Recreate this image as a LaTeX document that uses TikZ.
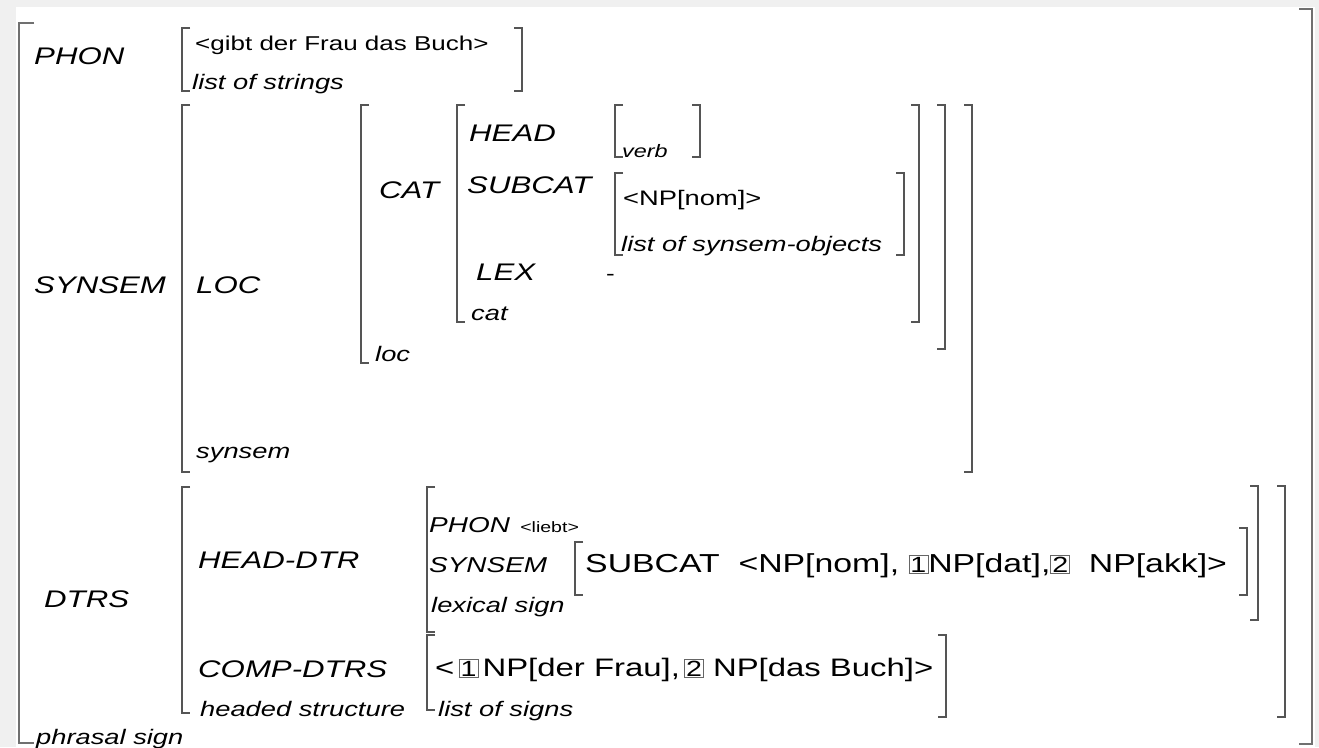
\documentclass[tikz,border=0pt]{standalone}
\usepackage{fontspec}
\usepackage{tikz}
\newfontfamily\avmfont{Liberation Sans}[FakeStretch=1.3]
\definecolor{pagegray}{HTML}{F0F0F0}
\definecolor{brkgray}{HTML}{555555}
\definecolor{outergray}{HTML}{707070}

% left / right bracket: x, top, bottom
\newcommand\avmL[3]{\draw[brk] (#1+8,#2) -| (#1,#3) -- (#1+8,#3);}
\newcommand\avmR[3]{\draw[brk] (#1-8,#2) -| (#1,#3) -- (#1-8,#3);}
% structure sharing tag
\newcommand\tagno[1]{{\setlength\fboxsep{1.2pt}\setlength\fboxrule{0.7pt}\fcolorbox{black!60}{white}{\fontsize{22}{22}\selectfont#1}}}

\begin{document}
\begin{tikzpicture}[x=1pt,y=-1pt,
    every node/.style={anchor=base west,inner sep=0pt},
    feat/.style={font=\avmfont\itshape\fontsize{24}{28}\selectfont},
    ifeat/.style={font=\avmfont\itshape\fontsize{21.5}{24}\selectfont},
    val/.style={font=\avmfont\fontsize{26}{30}\selectfont},
    sval/.style={font=\avmfont\fontsize{20}{24}\selectfont},
    tval/.style={font=\avmfont\fontsize{15}{18}\selectfont},
    typ/.style={font=\avmfont\itshape\fontsize{21}{24}\selectfont},
    brk/.style={draw=brkgray,line width=1.1pt},
    outer/.style={draw=outergray,line width=2.4pt}]
  \useasboundingbox (0,0) rectangle (1319,747);
  \fill[pagegray] (0,0) rectangle (1319,747);
  \fill[white] (16,7) rectangle (1315,747);

  % phrasal sign
  \draw[outer] (34,23) -| (19,743) -- (34,743);
  \draw[outer] (1299,9) -| (1312,744) -- (1299,744);
  \node[feat] (phon) at (34,64) {PHON};
  \node[feat] (synsem) at (34,293) {SYNSEM};
  \node[feat] (dtrs) at (44,607) {DTRS};
  \node[typ] (phrasal) at (36,744) {phrasal sign};

  % PHON
  \avmL{182}{28}{91} \avmR{522}{28}{91}
  \node[sval] (gibt) at (195,50) {<gibt der Frau das Buch>};
  \node[typ] (strings) at (192,89) {list of strings};

  % SYNSEM
  \avmL{182}{105}{472} \avmR{972}{105}{472}
  \node[feat] (loc) at (196,293) {LOC};
  \node[typ] (synsemtype) at (196,458) {synsem};
  \avmL{361}{105}{363} \avmR{945}{105}{349}
  \node[feat] (cat) at (379,198) {CAT};
  \node[typ] (loctype) at (375,361) {loc};
  \avmL{457}{105}{322} \avmR{919}{105}{322}
  \node[feat] (head) at (469,141) {HEAD};
  \node[feat] (subcat) at (467,193) {SUBCAT};
  \node[feat] (lex) at (476,280) {LEX};
  \node[typ] (cattype) at (471,320) {cat};
  \avmL{615}{105}{157} \avmR{700}{105}{157}
  \node[typ,font=\avmfont\itshape\fontsize{18}{20}\selectfont] (verb) at (622,157) {verb};
  \avmL{615}{173}{255} \avmR{904}{173}{255}
  \node[sval,font=\avmfont\fontsize{21}{24}\selectfont] (npnom) at (623,205) {<NP[nom]>};
  \node[typ] (synobj) at (621,251) {list of synsem-objects};
  \node[sval] (minus) at (606,280) {-};

  % DTRS
  \avmL{182}{487}{713} \avmR{1285}{486}{717}
  \node[feat] (headdtr) at (198,568) {HEAD-DTR};
  \node[feat] (compdtrs) at (198,677) {COMP-DTRS};
  \node[typ] (headed) at (200,716) {headed structure};
  \avmL{427}{487}{632} \avmR{1258}{486}{620}
  \node[ifeat] (iphon) at (429,532) {PHON};
  \node[tval,xshift=10pt] (liebt) at (iphon.base east) {<liebt>};
  \node[ifeat] (isynsem) at (429,572) {SYNSEM};
  \node[typ] (lexsign) at (431,612) {lexical sign};
  \avmL{575}{542}{595} \avmR{1247}{528}{595}
  \node[val] (isubcat) at (585,572) {SUBCAT\ \ <NP[nom], \tagno{1}NP[dat],\tagno{2}\ \ NP[akk]>};
  \avmL{427}{635}{710} \avmR{946}{635}{717}
  \node[val,font=\avmfont\fontsize{25.3}{30}\selectfont] (comps) at (435,676) {<\,\tagno{1}\,NP[der Frau],\,\tagno{2}\ NP[das Buch]>};
  \node[typ] (signs) at (438,716) {list of signs};
\end{tikzpicture}
\end{document}
